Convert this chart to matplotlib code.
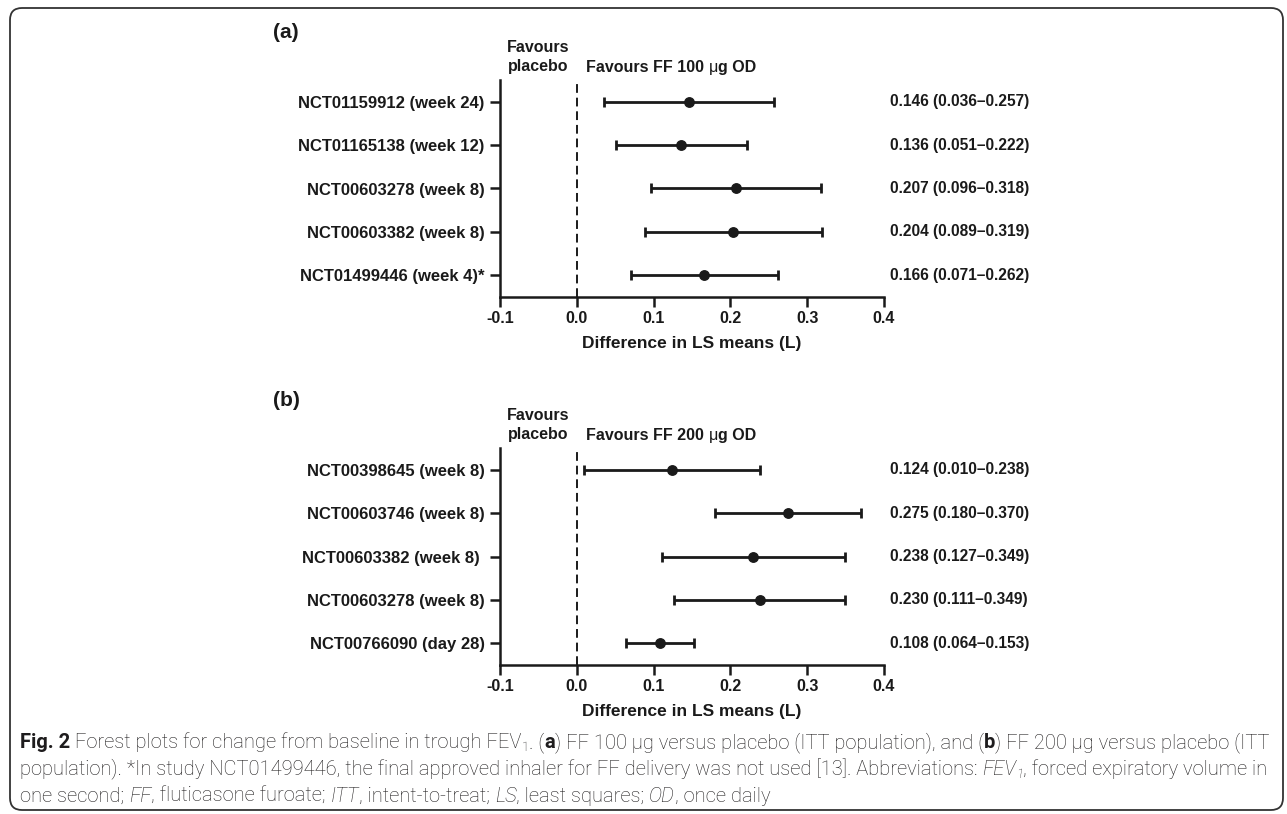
import numpy as np
import matplotlib
matplotlib.use("Agg")
import matplotlib.pyplot as plt
from matplotlib.transforms import IdentityTransform, blended_transform_factory
from matplotlib.patches import FancyBboxPatch

# panel (a): FF 100 ug vs placebo
studies_a = ['NCT01159912 (week 24)', 'NCT01165138 (week 12)', 'NCT00603278 (week 8)',
             'NCT00603382 (week 8)', 'NCT01499446 (week 4)*']
est_a = np.array([0.146, 0.136, 0.207, 0.204, 0.166])
lo_a = np.array([0.036, 0.051, 0.096, 0.089, 0.071])
hi_a = np.array([0.257, 0.222, 0.318, 0.319, 0.262])
txt_a = ['0.146 (0.036\u20130.257)', '0.136 (0.051\u20130.222)', '0.207 (0.096\u20130.318)',
         '0.204 (0.089\u20130.319)', '0.166 (0.071\u20130.262)']

# panel (b): FF 200 ug vs placebo (points as drawn in the figure)
studies_b = ['NCT00398645 (week 8)', 'NCT00603746 (week 8)', 'NCT00603382 (week 8) ',
             'NCT00603278 (week 8)', 'NCT00766090 (day 28)']
est_b = np.array([0.124, 0.275, 0.230, 0.238, 0.108])
lo_b = np.array([0.010, 0.180, 0.111, 0.127, 0.064])
hi_b = np.array([0.238, 0.370, 0.349, 0.349, 0.153])
txt_b = ['0.124 (0.010\u20130.238)', '0.275 (0.180\u20130.370)', '0.238 (0.127\u20130.349)',
         '0.230 (0.111\u20130.349)', '0.108 (0.064\u20130.153)']

xticks = [-0.1, 0.0, 0.1, 0.2, 0.3, 0.4]

W, H = 1287, 814
fig = plt.figure(figsize=(W / 100, H / 100), dpi=100)
r = fig.canvas.get_renderer()
ink = '#1a1a1a'
bold = dict(family='Liberation Sans', weight='bold', color=ink)


def advance(s, props):
    t1 = fig.text(0, 0, s + '|', transform=IdentityTransform(), **props)
    t2 = fig.text(0, 0, '|', transform=IdentityTransform(), **props)
    w = t1.get_window_extent(r).width - t2.get_window_extent(r).width
    t1.remove()
    t2.remove()
    return w


def runs(x, y, parts):
    # y is the baseline in pixels from the top, dy shifts a run down
    for s, props in parts:
        props = dict(props)
        dy = props.pop('dy', 0)
        fig.text(x, H - y - dy, s, transform=IdentityTransform(), va='baseline', ha='left', **props)
        x += advance(s, props)


def panel(top, studies, est, lo, hi, txt, tag, dose):
    ax = fig.add_axes([500 / W, 1 - (top + 217) / H, 384 / W, 217 / H])
    ypos = np.arange(len(studies), 0, -1)
    ax.errorbar(est, ypos, xerr=[est - lo, hi - est], fmt='o', color=ink, ms=6.8,
                elinewidth=2.0, capsize=3.6, capthick=2.0)
    ax.axvline(0, color=ink, lw=1.4, ls=(0, (4.5, 2.5)))
    ax.set_xlim(-0.1, 0.4)
    ax.set_ylim(0.5, len(studies) + 0.5)
    ax.set_xticks(xticks)
    ax.set_xticklabels(['%.1f' % v for v in xticks], fontsize=11.5, **bold)
    ax.set_yticks(ypos)
    ax.set_yticklabels(studies, fontsize=12, **bold)
    ax.tick_params(axis='both', direction='out', length=7, width=1.8, color=ink)
    ax.tick_params(axis='y', pad=4)
    ax.tick_params(axis='x', pad=3)
    for s in ['top', 'right']:
        ax.spines[s].set_visible(False)
    for s in ['left', 'bottom']:
        ax.spines[s].set_linewidth(1.8)
        ax.spines[s].set_color(ink)
    ax.set_xlabel('Difference in LS means (L)', fontsize=12.5, labelpad=7, **bold)

    tr = blended_transform_factory(IdentityTransform(), ax.transData)
    for yv, t in zip(ypos, txt):
        ax.text(890, yv, t, transform=tr, fontsize=11.2, va='center', **bold)

    fig.text(273, H - (top - 47), tag, transform=IdentityTransform(), fontsize=15, va='center', **bold)
    fig.text(538, H - (top - 33), 'Favours', transform=IdentityTransform(), fontsize=11.5,
             va='center', ha='center', **bold)
    fig.text(538, H - (top - 13), 'placebo', transform=IdentityTransform(), fontsize=11.5,
             va='center', ha='center', **bold)
    nb = dict(family='Liberation Sans', weight='normal', color=ink, size=11.5)
    bb = dict(bold, size=11.5)
    runs(586, top - 8, [('Favours FF %s ' % dose, bb), ('\u03bc', nb), ('g OD', bb)])
    return ax


panel(80, studies_a, est_a, lo_a, hi_a, txt_a, '(a)', '100')
panel(448, studies_b, est_b, lo_b, hi_b, txt_b, '(b)', '200')

# caption
cap = '#1e1c1d'
fam = 'Roboto'
sz = 14.5
lt = dict(family=fam, weight='light', size=sz, color=cap)
bd = dict(family=fam, weight='bold', size=sz, color=cap)
it = dict(family=fam, weight='light', style='italic', size=sz, color=cap)
sub = dict(lt, size=sz * 0.65, dy=3)
subi = dict(it, size=sz * 0.65, dy=3)

runs(20, 748, [('Fig. 2', bd), (' Forest plots for change from baseline in trough FEV', lt), ('1', sub),
               ('. (', lt), ('a', bd), (') FF 100 \u00b5g versus placebo (ITT population), and (', lt),
               ('b', bd), (') FF 200 \u00b5g versus placebo (ITT', lt)])
runs(20, 775, [('population). *In study NCT01499446, the final approved inhaler for FF delivery was not used [13]. Abbreviations: ', lt),
               ('FEV', it), ('1', subi), (', forced expiratory volume in', lt)])
runs(20, 802, [('one second; ', lt), ('FF', it), (', fluticasone furoate; ', lt), ('ITT', it),
               (', intent-to-treat; ', lt), ('LS', it), (', least squares; ', lt), ('OD', it),
               (', once daily', lt)])

frame = FancyBboxPatch((10, 4), W - 14, H - 12, boxstyle='round,pad=0,rounding_size=12',
                       transform=IdentityTransform(), fill=False, lw=1.3, ec='#333333')
fig.patches.append(frame)

fig.savefig('out.png', dpi=100)
